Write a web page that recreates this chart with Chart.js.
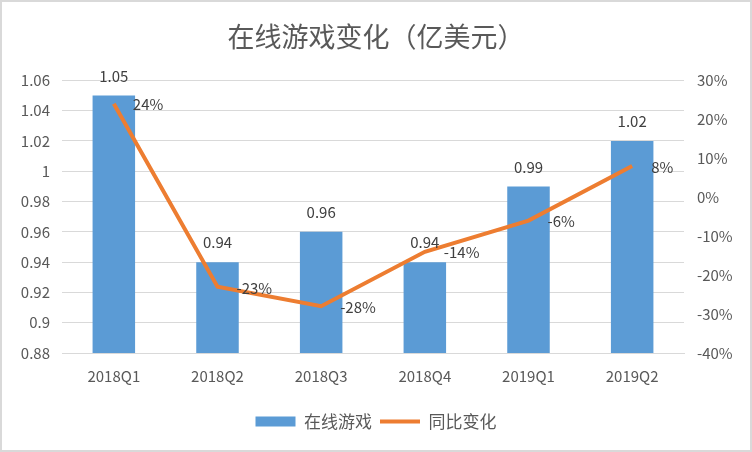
<!DOCTYPE html>
<html lang="zh">
<head>
<meta charset="UTF-8">
<title>在线游戏变化</title>
<script src="https://cdn.jsdelivr.net/npm/chart.js"></script>
<style>
  body { margin: 0; background: #fff; }
</style>
</head>
<body>
<canvas id="chart" width="752" height="452"></canvas>
<script>
  // 数据
  const quarters = ["2018Q1", "2018Q2", "2018Q3", "2018Q4", "2019Q1", "2019Q2"];
  const revenue = [1.05, 0.94, 0.96, 0.94, 0.99, 1.02];       // 亿美元
  const yoyChange = [24, -23, -28, -14, -6, 8];              // %

  const FONT = "'Noto Sans CJK SC', 'Noto Sans', sans-serif";
  const GREY = "#595959";

  // 白底 + 外框
  const frame = {
    id: "frame",
    beforeDraw(chart) {
      const c = chart.ctx;
      c.save();
      c.fillStyle = "#fff";
      c.fillRect(0, 0, chart.width, chart.height);
      c.strokeStyle = "#d9d9d9";
      c.lineWidth = 2;
      c.strokeRect(1, 1, chart.width - 2, chart.height - 2);
      c.restore();
    }
  };

  // 数据标签
  const labels = {
    id: "labels",
    afterDatasetsDraw(chart) {
      const c = chart.ctx;
      c.save();
      c.font = "15px " + FONT;
      c.fillStyle = "#404040";
      chart.getDatasetMeta(0).data.forEach((bar, i) => {
        c.textAlign = "center";
        c.textBaseline = "bottom";
        c.fillText(revenue[i].toFixed(2), bar.x, bar.y - 12);
      });
      chart.getDatasetMeta(1).data.forEach((pt, i) => {
        c.textAlign = "left";
        c.textBaseline = "middle";
        c.fillText(yoyChange[i] + "%", pt.x + 19, pt.y + 1);
      });
      c.restore();
    }
  };

  new Chart(document.getElementById("chart"), {
    data: {
      labels: quarters,
      datasets: [
        {
          type: "bar",
          label: "在线游戏",
          data: revenue,
          backgroundColor: "#5b9bd5",
          borderWidth: 0,
          yAxisID: "y",
          categoryPercentage: 1,
          barPercentage: 0.41,
          pointStyle: "rect",
          order: 2
        },
        {
          type: "line",
          label: "同比变化",
          data: yoyChange,
          borderColor: "#ed7d31",
          backgroundColor: "#ed7d31",
          borderWidth: 4,
          tension: 0,
          pointRadius: 0,
          yAxisID: "y1",
          pointStyle: "line",
          order: 1
        }
      ]
    },
    options: {
      responsive: false,
      animation: false,
      devicePixelRatio: 1,
      layout: { padding: { left: 0, right: 0, top: 0, bottom: 12 } },
      plugins: {
        title: {
          display: true,
          text: "在线游戏变化（亿美元）",
          color: GREY,
          font: { family: FONT, size: 27, weight: "normal" },
          padding: { top: 21, bottom: 27 }
        },
        legend: {
          position: "bottom",
          labels: {
            sort: (a, b) => a.datasetIndex - b.datasetIndex,
            usePointStyle: true,
            pointStyleWidth: 40,
            boxHeight: 10,
            color: GREY,
            font: { family: FONT, size: 17 },
            padding: 8
          }
        },
        tooltip: { enabled: false }
      },
      scales: {
        x: {
          grid: { display: false, drawTicks: false },
          border: { color: "#d9d9d9" },
          ticks: { color: GREY, font: { family: FONT, size: 15 }, padding: 14, maxRotation: 0 },
          afterFit: s => { s.height = 52; }
        },
        y: {
          position: "left",
          min: 0.88,
          max: 1.06,
          ticks: {
            stepSize: 0.02,
            color: GREY,
            font: { family: FONT, size: 15 },
            padding: 12,
            callback: v => +v.toFixed(2)
          },
          grid: { color: "#d9d9d9", drawTicks: false },
          border: { display: false },
          afterFit: s => { s.width = 62; }
        },
        y1: {
          position: "right",
          min: -40,
          max: 30,
          ticks: {
            stepSize: 10,
            color: GREY,
            font: { family: FONT, size: 15 },
            padding: 13,
            callback: v => v + "%"
          },
          grid: { display: false, drawTicks: false },
          border: { display: false },
          afterFit: s => { s.width = 68; }
        }
      }
    },
    plugins: [frame, labels]
  });
</script>
</body>
</html>
